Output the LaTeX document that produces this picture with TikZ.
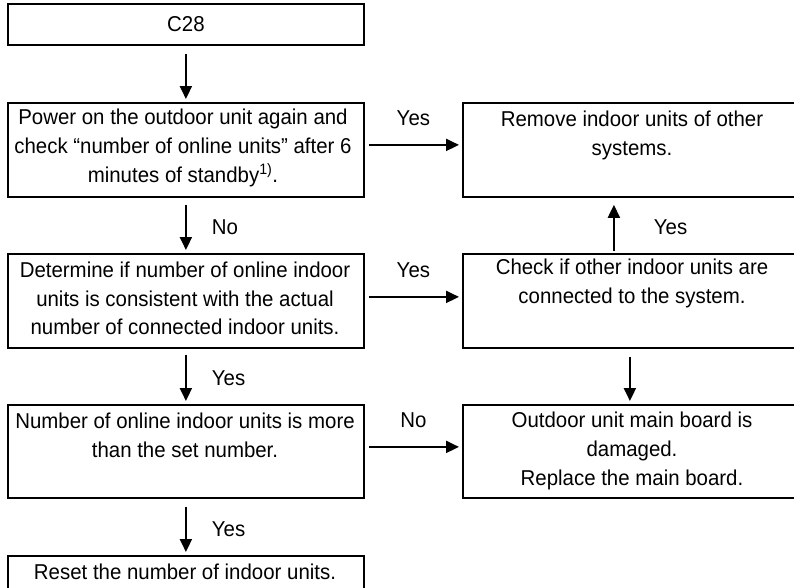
\documentclass[tikz,border=0pt]{standalone}
\usepackage{fontspec}
\setmainfont[FakeStretch=0.95]{Liberation Sans}
\usetikzlibrary{arrows.meta}
\begin{document}
\begin{tikzpicture}[x=1pt,y=-1pt,
  box/.style={draw, line width=1.8pt, rectangle, inner sep=0pt, anchor=north west},
  txt/.style={anchor=north, align=center, inner sep=0pt, font=\fontsize{21.5}{28.8}\selectfont},
  lbl/.style={inner sep=0pt, font=\fontsize{21.5}{28.8}\selectfont},
  arr/.style={line width=2pt, -{Triangle[length=13pt,width=12pt]}}]
\useasboundingbox (0,0) rectangle (794,587);

% boxes
\node[box, minimum width=356pt, minimum height=41pt, font=\fontsize{21.5}{28.8}\selectfont] (c28) at (7,3) {C28};
\node[box, minimum width=356pt, minimum height=94pt] (p1) at (7,102) {};
\node[box, minimum width=340pt, minimum height=94pt] (r1) at (462,102) {};
\node[box, minimum width=356pt, minimum height=94pt] (d1) at (7,253) {};
\node[box, minimum width=340pt, minimum height=94pt] (c1) at (462,253) {};
\node[box, minimum width=356pt, minimum height=93pt] (n1) at (7,404) {};
\node[box, minimum width=340pt, minimum height=93pt] (o1) at (462,404) {};
\node[box, minimum width=356pt, minimum height=45pt] (rs) at (7,555) {};

% texts
\node[txt] (p1t) at (183,108.8) {Power on the outdoor unit again and\\check “number of online units” after 6\\minutes of standby\textsuperscript{1)}.};
\node[txt] (r1t) at (632,110.8) {Remove indoor units of other\\systems.};
\node[txt] (d1t) at (185,261.5) {Determine if number of online indoor\\units is consistent with the actual\\number of connected indoor units.};
\node[txt] (c1t) at (632,259) {Check if other indoor units are\\connected to the system.};
\node[txt] (n1t) at (185,412.8) {Number of online indoor units is more\\than the set number.};
\node[txt] (o1t) at (632,412) {Outdoor unit main board is\\damaged.\\Replace the main board.};
\node[txt] (rst) at (185,563.5) {Reset the number of indoor units.};

% vertical arrows, left column
\draw[arr, shorten <=8pt, shorten >=3pt] (c28.south) -- (p1.north);
\draw[arr, shorten <=7pt, shorten >=3pt] (p1.south) -- (d1.north) node[lbl, midway, anchor=west, xshift=25pt, yshift=-2pt] {No};
\draw[arr, shorten <=6pt, shorten >=3pt] (d1.south) -- (n1.north) node[lbl, midway, anchor=west, xshift=25pt, yshift=-2pt] {Yes};
\draw[arr, shorten <=8pt, shorten >=3pt] (n1.south) -- (rs.north) node[lbl, midway, anchor=west, xshift=25pt, yshift=-2pt] {Yes};

% horizontal arrows
\draw[arr, shorten <=4pt, shorten >=3pt] ([yshift=5pt]p1.east) -- ([yshift=5pt]r1.west) node[lbl, midway, anchor=south, yshift=18pt] {Yes};
\draw[arr, shorten <=4pt, shorten >=3pt] ([yshift=4pt]d1.east) -- ([yshift=4pt]c1.west) node[lbl, midway, anchor=south, yshift=18pt] {Yes};
\draw[arr, shorten <=4pt, shorten >=3pt] ([yshift=4.5pt]n1.east) -- ([yshift=4.5pt]o1.west) node[lbl, midway, anchor=south, yshift=18pt] {No};

% right column
\draw[arr, shorten <=2pt, shorten >=7pt] ([xshift=-19pt]c1.north) -- ([xshift=-19pt]r1.south) node[lbl, midway, anchor=west, xshift=39pt, yshift=-2pt] {Yes};
\draw[arr, shorten <=8pt, shorten >=3pt] ([xshift=-3pt]c1.south) -- ([xshift=-3pt]o1.north);
\end{tikzpicture}
\end{document}
